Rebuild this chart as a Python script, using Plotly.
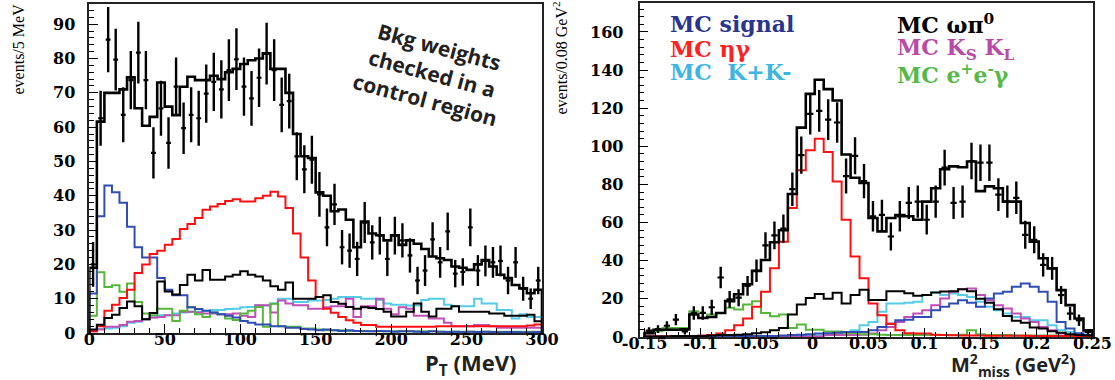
import numpy as np
import plotly.graph_objects as go

# ---------------- LEFT PANEL: P_T (5 MeV bins, 0-300 MeV) ----------------
pt_bin_width = 5
pt_data = [20, 62.6, 85.5, 79.7, 63.6, 73.7, 81.7, 73.7, 52.5, 65.5,
           55.4, 71.8, 59.7, 63.6, 62.6, 69.8, 73.2, 71, 76.6, 79.8,
           71.8, 68.4, 74.4, 81.4, 76.6, 66.5, 67.6, 51.5, 47.7, 50.5,
           40.4, 30.8, 37.5, 25, 24, 21.6, 32.2, 26.4, 28.4, 21.6,
           28.4, 27, 22.6, 15.3, 18.2, 27.3, 20.6, 29.6, 17.3, 17.8,
           30.8, 18.2, 21, 20.6, 21, 15.3, 20.6, 12.9, 10, 15.3]
pt_err = [6.5, 8, 9.5, 9, 8, 8.5, 9, 8.5, 7.5, 8,
          7.5, 8.5, 7.5, 8, 8, 8.5, 8.5, 8.5, 9, 9,
          8.5, 8, 8.5, 9, 9, 8, 8, 7, 7, 7,
          6.5, 5.5, 6, 5, 5, 5, 6, 5, 5.5, 5,
          5.5, 5, 5, 4, 4.5, 5, 4.5, 5.5, 4, 4,
          5.5, 4.5, 4.5, 4.5, 4.5, 4, 4.5, 3.5, 3, 4]
pt_total = [19, 61.6, 70, 70, 71, 74.5, 65.5, 60.4, 63, 73,
            66, 63.5, 71.8, 74.7, 73.7, 73.7, 75, 74, 76, 77,
            78.4, 79.5, 80, 81.5, 77, 77, 70, 58, 51.5, 51,
            41, 40, 35.5, 36, 33, 25, 32.5, 29, 28.5, 27,
            28.5, 25.7, 27, 26, 24.5, 22.3, 21.8, 21.3, 19.4, 19,
            18.4, 20, 21.3, 19.4, 17, 16, 14, 13, 11.6, 12.6]
pt_signal = [11.5, 34, 43, 41, 38, 31, 25, 22, 22, 16,
             12.6, 11, 11, 7.5, 7, 6.5, 6, 5.5, 5, 4.5,
             3.5, 3, 2.5, 2.5, 2, 2, 1.5, 1.5, 1.2, 1,
             0.8, 1, 0.8, 0.6, 0.8, 0.6, 0.5, 0.5, 0.6, 0.5,
             0.4, 0.5, 0.5, 0.4, 0.3, 0.5, 0.4, 0.3, 0.4, 0.3,
             0.4, 0.3, 0.4, 0.3, 0.2, 0.3, 0.3, 0.2, 0.2, 0.3]
pt_etag = [0.5, 2, 6.5, 8.2, 10.2, 12.6, 17.5, 20, 23, 24,
           25.7, 27.4, 30.3, 31.8, 33.5, 35.9, 36.9, 37.6, 38.5, 39,
           38.3, 38.3, 39.3, 40, 41.2, 39.8, 36.4, 29, 22, 15.3,
           10.5, 7.1, 5.9, 4.7, 3.7, 3, 2.3, 2.3, 1.8, 1.8,
           1.8, 1.8, 1.8, 1.8, 1.8, 1.8, 2, 2, 2, 2,
           2, 2, 2, 2, 2, 2, 2, 2, 2.2, 2.5]
pt_ompi = [1, 2.4, 4.4, 5.3, 7.3, 9.2, 7.8, 4, 5.8, 15,
           12.1, 11.2, 14, 17, 15.3, 18.4, 15.5, 15.5, 16.5, 17,
           18, 17, 16.5, 15.3, 13.6, 12.6, 14.7, 10, 10, 10,
           10.5, 11, 9, 8.5, 7.6, 7.1, 7.5, 7.3, 7, 6.2,
           4.8, 4.8, 6.2, 8.6, 6.2, 4.8, 7.1, 7.1, 7.8, 6.2,
           6.2, 6.2, 6.2, 5.7, 5.7, 5, 5, 5, 5.3, 3.4]
pt_ee = [5, 17.7, 13.4, 13.9, 12, 14.4, 9, 5.7, 5.2, 7.1,
         7.1, 3.5, 6.5, 7.5, 5.5, 4.7, 6, 5.5, 4.2, 3.8,
         5.7, 6.5, 7.6, 1.8, 8.5, 2, 1.8, 1.8, 1.3, 1.3,
         1, 0.8, 0.8, 0.8, 0.6, 0.6, 0.6, 0.5, 0.5, 0.5,
         0.5, 0.5, 0.5, 0.5, 0.5, 0.5, 0.4, 0.4, 0.4, 0.4,
         0.4, 0.4, 0.4, 0.4, 0.4, 0.4, 0.4, 0.4, 0.4, 0.4]
pt_kk = [0.5, 1.2, 1.3, 1.5, 2, 3, 3.3, 4, 4.5, 5.2,
         5.2, 5.7, 6, 6.2, 6.2, 6.5, 6.7, 6.7, 7, 7.1,
         7.5, 7.6, 8.1, 8, 8.6, 10, 10, 9, 9, 9.5,
         9.5, 9.6, 10, 10.5, 10.5, 10.5, 10, 10, 9.6, 8.6,
         8.2, 8.2, 8, 8, 9.6, 10, 10, 8.2, 7.8, 7.8,
         7.8, 10, 8.6, 8.6, 6.7, 6.7, 4.2, 5.5, 4.7, 4.7]
pt_kskl = [0.5, 1, 1.8, 1.8, 2.3, 3.3, 3.5, 4, 4.5, 4.7,
           5.2, 5.2, 6.2, 6.2, 6, 5.7, 5.7, 5.5, 5.5, 5.7,
           5, 4.7, 8.1, 8.1, 6, 9.5, 8.6, 8.1, 8.1, 7.1,
           7.1, 7.5, 7.8, 7.8, 10, 4.7, 7.8, 7.8, 10, 7.1,
           5.5, 7.5, 7.1, 5, 5, 4.2, 4.2, 3, 2, 2,
           2, 2.3, 2.3, 2, 1.5, 1.5, 1.5, 1.5, 1.5, 1.5]

# ---------------- RIGHT PANEL: M2 miss (0.008 GeV^2 bins) ----------------
m2_start = -0.15
m2_bin_width = 0.008
m2_data = [3.3, 4.1, 5.9, 9.1, 3, 12.6, 12.6, 15.6, 31.2, 19.7,
           20.6, 26.8, 34.7, 48, 53.3, 56.8, 77.5, 95.4, 117, 118.6,
           114, 112.5, 84.4, 95, 81.7, 63.3, 64, 52.7, 63.3, 70.3,
           71, 61.5, 71, 88.8, 70.3, 71, 92.3, 91.4, 91.4, 74.7,
           71, 73, 53.6, 51, 37.8, 36, 22, 12.3, 8.8, 2.6]
m2_err = [1.8, 2, 2.4, 3, 1.7, 3.5, 3.5, 4, 5.6, 4.4,
          4.5, 5.2, 5.9, 6.9, 7.3, 7.5, 8.8, 9.8, 10.8, 10.9,
          10.7, 10.6, 9.2, 9.7, 9, 8, 8, 7.3, 8, 8.4,
          8.4, 7.8, 8.4, 9.4, 8.4, 8.4, 9.6, 9.6, 9.6, 8.6,
          8.4, 8.5, 7.3, 7.1, 6.1, 6, 4.7, 3.5, 3, 1.6]
m2_total = [2, 3.8, 3.8, 3.8, 4, 11.8, 10, 10.5, 12.6, 18.8,
            22.4, 27.7, 34.7, 40.4, 49.7, 56, 75, 109.8, 127.5, 134.9,
            130, 124, 95.7, 83.5, 80.8, 62.4, 55.4, 62.4, 64, 63.3,
            61.5, 71, 78, 88, 89.5, 89, 92, 76.5, 79, 78,
            71, 71, 59.8, 50, 41.3, 36, 24.6, 16.7, 9.7, 3.5]
m2_signal = [0.2, 0.2, 0.2, 0.2, 0.2, 0.2, 0.2, 0.2, 0.3, 0.3,
             0.5, 0.5, 0.5, 0.5, 0.5, 0.8, 1, 1.2, 1.5, 1.8,
             2, 2.2, 2.6, 2.6, 2.6, 3.5, 5.3, 7, 8.8, 9,
             10.5, 10.5, 14, 15.8, 17.6, 19.3, 18, 15.8, 20.2, 22.8,
             23.7, 26.4, 28.1, 26.4, 23.7, 18.5, 7.9, 4.4, 2, 1]
m2_etag = [0.2, 0.2, 0.3, 0.3, 0.5, 0.5, 0.8, 1, 1.8, 3.5,
           6.2, 9.7, 15.8, 23.7, 36, 50, 67.7, 87.5, 98, 104,
           97, 81.6, 61.5, 42.2, 30.8, 17.6, 11.4, 7, 3.5, 2,
           1.8, 1.8, 1.2, 1, 0.9, 0.8, 0.8, 0.8, 0.7, 0.7,
           0.6, 0.6, 0.6, 0.5, 0.5, 0.5, 0.5, 0.5, 0.5, 0.5]
m2_ompi = [0.3, 0.3, 0.3, 0.5, 0.5, 0.5, 0.5, 0.8, 1, 1,
           1.2, 1.5, 2, 2.5, 3.5, 4.7, 11.8, 17, 20.5, 22.5,
           20, 23.2, 17.6, 22, 24.8, 19.4, 19.4, 24, 24, 23,
           21.6, 22, 23.4, 23.8, 24, 25, 24, 20, 18, 14.5,
           11, 8.5, 7.5, 5, 4.5, 3, 2.2, 1.5, 1, 0.8]
m2_kk = [0.3, 0.3, 0.3, 0.3, 0.3, 0.3, 0.3, 0.3, 0.3, 0.3,
         0.3, 0.3, 0.3, 0.3, 0.3, 0.3, 0.5, 0.5, 0.5, 0.8,
         1, 1.5, 2.6, 3.5, 6.2, 7.9, 13.2, 17.6, 17.6, 18,
         18.5, 22, 23.4, 22, 22.8, 22, 21, 18.5, 15.8, 14,
         12.3, 10.5, 10.5, 8.8, 8.8, 6.2, 3.5, 2.6, 1.5, 1]
m2_kskl = [0.2, 0.2, 0.2, 0.2, 0.2, 0.2, 0.2, 0.2, 0.2, 0.2,
           0.2, 0.2, 0.2, 0.2, 0.2, 0.2, 0.2, 0.2, 0.2, 0.2,
           1, 1, 1, 1, 1.2, 1.8, 3.5, 5.3, 7.9, 10.5,
           12.3, 14, 16.7, 20.2, 23.7, 25, 25.5, 22, 19.3, 16.7,
           15, 12.3, 9.7, 7.9, 5.3, 3.5, 1.8, 1, 0.8, 0.5]
m2_ee = [2.9, 3, 4.7, 4.7, 4.7, 13.5, 10, 11.8, 12.6, 15.3,
         14.4, 17, 18.8, 12.6, 10.9, 11.8, 4.7, 6.5, 3.8, 3.8,
         2.9, 2.9, 2, 2, 1.5, 1.5, 1.2, 1, 1, 1,
         1, 1, 1, 1, 1, 1.2, 3.5, 1.5, 1, 1,
         1, 0.8, 0.8, 0.8, 0.8, 0.8, 0.5, 0.5, 0.5, 0.5]

pt_tickvals = [0, 50, 100, 150, 200, 250, 300]
m2_tickvals = [-0.15, -0.1, -0.05, 0, 0.05, 0.1, 0.15, 0.2, 0.25]
m2_ticktext = ["-0.15", "-0.1", "-0.05", "0", "0.05", "0.1", "0.15", "0.2", "0.25"]

legend_labels = ["MC signal", "MC \u03b7\u03b3", "MC\u00a0 K+K-",
                 "MC \u03c9\u03c0<sup>0</sup>", "MC K<sub>S</sub> K<sub>L</sub>",
                 "MC e<sup>+</sup>e<sup>-</sup>\u03b3"]

# ---------------- style ----------------
C_SIG = "#2f4db5"
C_ETA = "#ff1010"
C_KK = "#55cde8"
C_OMPI = "#000000"
C_KSKL = "#c050b5"
C_EE = "#55b83a"
LEG_COLORS = ["#2a3590", "#ff2020", "#3cb4e4", "#000000", "#b84aa8", "#55b947"]

W, H = 1115, 380
def px(x):
    return x / W
def py(y):
    return 1 - y / H

fig = go.Figure()

def add_hist(start, width, vals, color, lw, xa, ya):
    n = len(vals)
    edges = start + width * np.arange(n + 1)
    xs = [edges[0]] + list(edges) + [edges[-1]]
    ys = [0] + list(vals) + [vals[-1], 0]
    fig.add_trace(go.Scatter(x=xs, y=ys, mode="lines", line=dict(color=color, width=lw, shape="hv"),
                             xaxis=xa, yaxis=ya, showlegend=False, hoverinfo="skip"))

def add_data(start, width, vals, errs, xerr, xa, ya):
    centers = start + width * (np.arange(len(vals)) + 0.5)
    fig.add_trace(go.Scatter(x=centers, y=vals, mode="markers",
                             marker=dict(size=2, color="black"),
                             error_y=dict(type="data", array=errs, color="black", thickness=2.4, width=0),
                             error_x=dict(type="constant", value=xerr, color="black", thickness=2.2, width=0),
                             xaxis=xa, yaxis=ya, showlegend=False))

# left panel
for vals, col in [(pt_kk, C_KK), (pt_kskl, C_KSKL), (pt_ee, C_EE), (pt_signal, C_SIG),
                  (pt_etag, C_ETA), (pt_ompi, C_OMPI)]:
    add_hist(0, pt_bin_width, vals, col, 2, "x", "y")
add_hist(0, pt_bin_width, pt_total, "black", 2.6, "x", "y")
add_data(0, pt_bin_width, pt_data, pt_err, 1.6, "x", "y")

# right panel
for vals, col in [(m2_kk, C_KK), (m2_kskl, C_KSKL), (m2_ee, C_EE), (m2_signal, C_SIG),
                  (m2_etag, C_ETA), (m2_ompi, C_OMPI)]:
    add_hist(m2_start, m2_bin_width, vals, col, 2, "x2", "y2")
add_hist(m2_start, m2_bin_width, m2_total, "black", 2.6, "x2", "y2")
add_data(m2_start, m2_bin_width, m2_data, m2_err, 0.0028, "x2", "y2")

tickfont = dict(family="DejaVu Serif", size=16, color="black", weight="bold")
axis_common = dict(showline=True, linecolor="#222222", linewidth=1.6, mirror=True,
                   ticks="inside", ticklen=9, tickwidth=1.4, tickcolor="black",
                   showgrid=False, zeroline=False, tickfont=tickfont, automargin=False)

fig.update_layout(
    template="none",
    width=W, height=H, margin=dict(l=0, r=0, t=0, b=0, autoexpand=False),
    paper_bgcolor="white", plot_bgcolor="white", showlegend=False,
    xaxis=dict(domain=[px(89.3), px(542)], range=[0, 300], tickvals=pt_tickvals,
               minor=dict(dtick=10, tick0=0, ticklen=5, ticks="inside", tickcolor="black"),
               anchor="y", ticklabelstandoff=-9, **axis_common),
    yaxis=dict(domain=[py(333), py(4)], range=[0, 95.9], dtick=10, tick0=0,
               minor=dict(dtick=2, tick0=0, ticklen=5, ticks="inside", tickcolor="black"),
               anchor="x", ticklabelstandoff=9, **axis_common),
    xaxis2=dict(domain=[px(639.5), px(1093)], range=[-0.1545, 0.2505], tickvals=m2_tickvals, ticktext=m2_ticktext,
                minor=dict(dtick=0.01, tick0=0, ticklen=5, ticks="inside", tickcolor="black"),
                anchor="y2", ticklabelstandoff=-9, **axis_common),
    yaxis2=dict(domain=[py(337), py(3.3)], range=[0, 175], dtick=20, tick0=0,
                minor=dict(dtick=4, tick0=0, ticklen=5, ticks="inside", tickcolor="black"),
                anchor="x2", ticklabelstandoff=11, **axis_common),
)

annots = []
# axis titles
annots.append(dict(text="events/5 MeV", x=px(18), y=py(2), xref="paper", yref="paper",
                   xanchor="center", yanchor="top", textangle=-90, showarrow=False,
                   font=dict(family="Liberation Serif", size=16, color="black")))
annots.append(dict(text="events/0.08 GeV<sup>2</sup>", x=px(560), y=py(0), xref="paper", yref="paper",
                   xanchor="center", yanchor="top", textangle=-90, showarrow=False,
                   font=dict(family="Liberation Serif", size=16, color="black")))
annots.append(dict(text="P<sub>T</sub> (MeV)", x=px(518), y=py(364), xref="paper", yref="paper",
                   xanchor="right", yanchor="middle", showarrow=False,
                   font=dict(family="Open Sans", size=22, color="#222222", weight="bold")))
annots.append(dict(text="M<sup>2</sup><sub>miss</sub> (GeV<sup>2</sup>)", x=px(1078), y=py(365), xref="paper", yref="paper",
                   xanchor="right", yanchor="middle", showarrow=False,
                   font=dict(family="Open Sans", size=20, color="#222222", weight="bold")))
# rotated comment
annots.append(dict(text="Bkg weights<br>checked in a<br>control region", x=px(432), y=py(74),
                   xref="paper", yref="paper", xanchor="center", yanchor="middle", textangle=15,
                   showarrow=False, align="center",
                   font=dict(family="Open Sans", size=21, color="#222222", weight="bold")))
# legend texts
leg_pos = [(668, 24), (668, 49), (668, 72), (895, 24), (895, 49), (895, 74)]
for lab, col, (lx, ly) in zip(legend_labels, LEG_COLORS, leg_pos):
    annots.append(dict(text=lab, x=px(lx), y=py(ly), xref="paper", yref="paper",
                       xanchor="left", yanchor="middle", showarrow=False,
                       font=dict(family="DejaVu Serif", size=22, color=col, weight="bold")))
fig.update_layout(annotations=annots)

fig.write_html("out.html")
